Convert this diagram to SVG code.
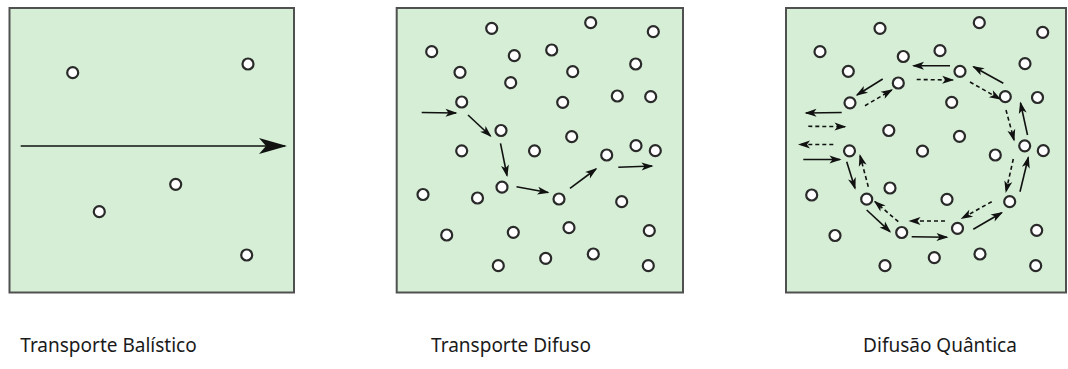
<svg xmlns="http://www.w3.org/2000/svg" width="1068" height="369" viewBox="0 0 1068 369">
<style>
.panel{fill:#d5eed5;stroke:#505050;stroke-width:2}
.p circle{fill:#ffffff;stroke:#2a2a2a;stroke-width:2.2}
.a{fill:none;stroke:#111;stroke-width:1.6}
.ad{fill:none;stroke:#111;stroke-width:1.6;stroke-dasharray:4 3}
.lbl{font-family:"Noto Sans","Liberation Sans",sans-serif;font-size:19px;fill:#1a1a1a;text-anchor:middle}
</style>
<defs>
<marker id="big" markerUnits="userSpaceOnUse" markerWidth="28" markerHeight="16" refX="26" refY="8" orient="auto" overflow="visible">
<path d="M0,0 L28,8 L0,16 L7,8 z" fill="#111"/>
</marker>
<marker id="sm" markerUnits="userSpaceOnUse" markerWidth="12" markerHeight="8" refX="10.5" refY="4" orient="auto" overflow="visible">
<path d="M0,0 L12,4 L0,8 L3,4 z" fill="#111"/>
</marker>
</defs>
<rect width="1068" height="369" fill="#ffffff"/>

<g id="panel-balistico" class="p">
<rect class="panel" x="9.5" y="8" width="284.5" height="284.5"/>
<circle cx="72.7" cy="72.7" r="5.5"/>
<circle cx="248" cy="64" r="5.5"/>
<circle cx="175.7" cy="184.3" r="5.5"/>
<circle cx="99.3" cy="211.7" r="5.5"/>
<circle cx="246.7" cy="255" r="5.5"/>
</g>

<g id="panel-difuso" class="p">
<rect class="panel" x="396.7" y="8" width="286.3" height="284.5"/>
<circle cx="491.7" cy="28.3" r="5.5"/>
<circle cx="590.7" cy="22.7" r="5.5"/>
<circle cx="653.3" cy="31.7" r="5.5"/>
<circle cx="431.7" cy="51.7" r="5.5"/>
<circle cx="514.3" cy="55.7" r="5.5"/>
<circle cx="551.7" cy="50" r="5.5"/>
<circle cx="460" cy="72.3" r="5.5"/>
<circle cx="572.7" cy="71.7" r="5.5"/>
<circle cx="635.7" cy="64" r="5.5"/>
<circle cx="510.7" cy="82.7" r="5.5"/>
<circle cx="461.7" cy="102" r="5.5"/>
<circle cx="562.7" cy="102.3" r="5.5"/>
<circle cx="617.3" cy="96" r="5.5"/>
<circle cx="650.7" cy="96.7" r="5.5"/>
<circle cx="501" cy="130.5" r="5.5"/>
<circle cx="571.7" cy="136.7" r="5.5"/>
<circle cx="461.7" cy="150.8" r="5.5"/>
<circle cx="534.5" cy="150.8" r="5.5"/>
<circle cx="606.7" cy="155" r="5.5"/>
<circle cx="636" cy="145.7" r="5.5"/>
<circle cx="655.3" cy="150.7" r="5.5"/>
<circle cx="423" cy="194.5" r="5.5"/>
<circle cx="477.5" cy="198" r="5.5"/>
<circle cx="502" cy="187.2" r="5.5"/>
<circle cx="559" cy="199" r="5.5"/>
<circle cx="621.7" cy="201.7" r="5.5"/>
<circle cx="446.7" cy="235" r="5.5"/>
<circle cx="513.3" cy="232.3" r="5.5"/>
<circle cx="569" cy="227.7" r="5.5"/>
<circle cx="649.3" cy="230.7" r="5.5"/>
<circle cx="498.3" cy="265.7" r="5.5"/>
<circle cx="545.7" cy="258.3" r="5.5"/>
<circle cx="593.3" cy="254" r="5.5"/>
<circle cx="648.3" cy="265.7" r="5.5"/>
</g>

<g id="panel-quantica" class="p">
<rect class="panel" x="786" y="8" width="280" height="284.5"/>
<circle cx="880" cy="28.3" r="5.5"/>
<circle cx="979.3" cy="22.7" r="5.5"/>
<circle cx="1042.7" cy="32.3" r="5.5"/>
<circle cx="820" cy="51.7" r="5.5"/>
<circle cx="903.3" cy="56.5" r="5.5"/>
<circle cx="940" cy="50.7" r="5.5"/>
<circle cx="848.3" cy="71.3" r="5.5"/>
<circle cx="960" cy="71.3" r="5.5"/>
<circle cx="1025" cy="63.7" r="5.5"/>
<circle cx="898.3" cy="83" r="5.5"/>
<circle cx="850" cy="102.8" r="5.5"/>
<circle cx="951.7" cy="102.3" r="5.5"/>
<circle cx="1005.3" cy="96.7" r="5.5"/>
<circle cx="1037.5" cy="97.5" r="5.5"/>
<circle cx="888.8" cy="130.5" r="5.5"/>
<circle cx="959.5" cy="136.3" r="5.5"/>
<circle cx="922.5" cy="151.2" r="5.5"/>
<circle cx="1024.7" cy="145.8" r="5.5"/>
<circle cx="1043.3" cy="150.7" r="5.5"/>
<circle cx="995.3" cy="155" r="5.5"/>
<circle cx="849.5" cy="150.8" r="5.5"/>
<circle cx="811.7" cy="195" r="5.5"/>
<circle cx="890" cy="188" r="5.5"/>
<circle cx="866.7" cy="199.2" r="5.5"/>
<circle cx="947" cy="199.3" r="5.5"/>
<circle cx="1009.7" cy="201.7" r="5.5"/>
<circle cx="835" cy="235.5" r="5.5"/>
<circle cx="901.7" cy="232.5" r="5.5"/>
<circle cx="957.5" cy="228.3" r="5.5"/>
<circle cx="1036.7" cy="230.3" r="5.5"/>
<circle cx="885" cy="265.7" r="5.5"/>
<circle cx="934.3" cy="257.7" r="5.5"/>
<circle cx="980" cy="254" r="5.5"/>
<circle cx="1035.7" cy="265.7" r="5.5"/>
</g>

<g id="connectors">
<line class="a" x1="20.7" y1="146" x2="285" y2="146" marker-end="url(#big)"/>

<line class="a" x1="421.7" y1="112.5" x2="456" y2="113" marker-end="url(#sm)"/>
<line class="a" x1="468" y1="115" x2="490.5" y2="136" marker-end="url(#sm)"/>
<line class="a" x1="500.5" y1="143.3" x2="507" y2="175.5" marker-end="url(#sm)"/>
<line class="a" x1="516.5" y1="186.7" x2="548" y2="192.5" marker-end="url(#sm)"/>
<line class="a" x1="570" y1="188.3" x2="596" y2="169" marker-end="url(#sm)"/>
<line class="a" x1="618.3" y1="167.3" x2="652" y2="166" marker-end="url(#sm)"/>

<line class="a" x1="882.7" y1="79" x2="857" y2="95" marker-end="url(#sm)"/>
<line class="ad" x1="865" y1="105.7" x2="891.7" y2="90" marker-end="url(#sm)"/>
<line class="a" x1="841.7" y1="112.5" x2="806" y2="113" marker-end="url(#sm)"/>
<line class="ad" x1="808.3" y1="126.3" x2="845" y2="126.7" marker-end="url(#sm)"/>
<line class="ad" x1="833.3" y1="144.5" x2="799.5" y2="144.5" marker-end="url(#sm)"/>
<line class="a" x1="803.3" y1="159.5" x2="840" y2="159.5" marker-end="url(#sm)"/>
<line class="a" x1="950" y1="65.7" x2="913.5" y2="65.7" marker-end="url(#sm)"/>
<line class="ad" x1="916.7" y1="79.5" x2="952.7" y2="80" marker-end="url(#sm)"/>
<line class="a" x1="1003.3" y1="83.3" x2="973.5" y2="66.7" marker-end="url(#sm)"/>
<line class="ad" x1="970" y1="82" x2="1000" y2="99" marker-end="url(#sm)"/>
<line class="ad" x1="1006" y1="110" x2="1014" y2="140" marker-end="url(#sm)"/>
<line class="a" x1="1027.5" y1="135" x2="1020.5" y2="103" marker-end="url(#sm)"/>
<line class="ad" x1="1013.3" y1="159" x2="1006" y2="191.5" marker-end="url(#sm)"/>
<line class="a" x1="1020" y1="191.7" x2="1028.3" y2="157.5" marker-end="url(#sm)"/>
<line class="ad" x1="991.7" y1="201.7" x2="962" y2="218.3" marker-end="url(#sm)"/>
<line class="a" x1="973.3" y1="229.3" x2="1001.7" y2="212.7" marker-end="url(#sm)"/>
<line class="ad" x1="945" y1="221" x2="910" y2="221" marker-end="url(#sm)"/>
<line class="a" x1="911.7" y1="236.7" x2="947" y2="237.3" marker-end="url(#sm)"/>
<line class="a" x1="866.7" y1="210" x2="890" y2="231.7" marker-end="url(#sm)"/>
<line class="ad" x1="898.3" y1="221.7" x2="875" y2="201.7" marker-end="url(#sm)"/>
<line class="a" x1="846.7" y1="161.7" x2="855" y2="188.3" marker-end="url(#sm)"/>
<line class="ad" x1="868.3" y1="186.7" x2="860" y2="155.5" marker-end="url(#sm)"/>
</g>

<g id="labels">
<text class="lbl" x="108.5" y="352">Transporte Balístico</text>
<text class="lbl" x="511" y="352">Transporte Difuso</text>
<text class="lbl" x="940" y="352">Difusão Quântica</text>
</g>
</svg>
